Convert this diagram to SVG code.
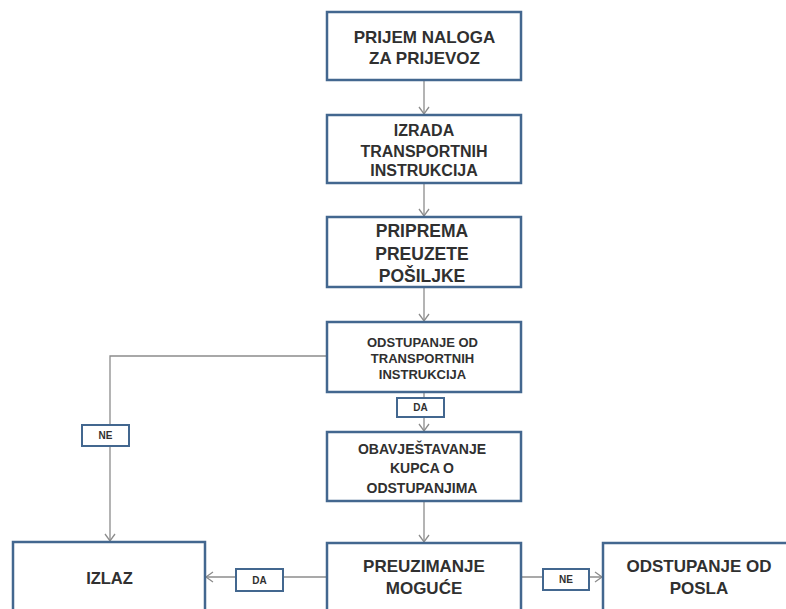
<svg xmlns="http://www.w3.org/2000/svg" width="786" height="609" viewBox="0 0 786 609">
<style>
.box{fill:#fff;stroke:#43678f;stroke-width:2.5}
.lbl{fill:#fff;stroke:#43678f;stroke-width:2}
.t{font-family:"Liberation Sans",Arial,sans-serif;font-weight:bold;fill:#303030;text-anchor:middle;dominant-baseline:central}
.c{fill:none;stroke:#8c8c8c;stroke-width:1.3}
</style>
<defs>
<marker id="ah" markerWidth="12" markerHeight="12" refX="10" refY="6" orient="auto" markerUnits="userSpaceOnUse">
<path d="M3,1 L10,6 L3,11" fill="none" stroke="#8c8c8c" stroke-width="1.3"/>
</marker>
</defs>
<rect width="786" height="609" fill="#fff"/>
<g id="connectors">
<line class="c" x1="424" y1="80" x2="424" y2="114" marker-end="url(#ah)"/>
<line class="c" x1="424" y1="183" x2="424" y2="216" marker-end="url(#ah)"/>
<line class="c" x1="424" y1="287" x2="424" y2="321" marker-end="url(#ah)"/>
<line class="c" x1="424" y1="392" x2="424" y2="431" marker-end="url(#ah)"/>
<line class="c" x1="424" y1="501" x2="424" y2="542" marker-end="url(#ah)"/>
<polyline class="c" points="327,356 110,356 110,541" marker-end="url(#ah)"/>
<line class="c" x1="327" y1="577" x2="206" y2="577" marker-end="url(#ah)"/>
<line class="c" x1="521" y1="577" x2="602" y2="577" marker-end="url(#ah)"/>
</g>
<g id="n1"><rect class="box" x="327" y="12" width="194" height="68"/>
<text class="t" x="424.5" y="37" font-size="17">PRIJEM NALOGA</text>
<text class="t" x="424.5" y="58" font-size="17">ZA PRIJEVOZ</text></g>
<g id="n2"><rect class="box" x="327" y="115" width="194" height="68"/>
<text class="t" x="424" y="130" font-size="16">IZRADA</text>
<text class="t" x="424" y="151.5" font-size="16">TRANSPORTNIH</text>
<text class="t" x="424" y="170.5" font-size="16">INSTRUKCIJA</text></g>
<g id="n3"><rect class="box" x="327" y="217" width="194" height="70"/>
<text class="t" x="422" y="231" font-size="17.5">PRIPREMA</text>
<text class="t" x="422" y="253.5" font-size="17.5">PREUZETE</text>
<text class="t" x="422" y="276" font-size="17.5">POŠILJKE</text></g>
<g id="n4"><rect class="box" x="327" y="322" width="194" height="70"/>
<text class="t" x="422.5" y="342" font-size="13">ODSTUPANJE OD</text>
<text class="t" x="422.5" y="358" font-size="13">TRANSPORTNIH</text>
<text class="t" x="422.5" y="374" font-size="13">INSTRUKCIJA</text></g>
<g id="lbl-da1"><rect class="lbl" x="397" y="398" width="47" height="19"/>
<text class="t" x="420.5" y="407.5" font-size="10">DA</text></g>
<g id="n5"><rect class="box" x="327" y="432" width="194" height="69"/>
<text class="t" x="422" y="448.5" font-size="14">OBAVJEŠTAVANJE</text>
<text class="t" x="422" y="467.5" font-size="14">KUPCA O</text>
<text class="t" x="422" y="487.5" font-size="14">ODSTUPANJIMA</text></g>
<g id="n6"><rect class="box" x="327" y="543" width="194" height="80"/>
<text class="t" x="424" y="566" font-size="17">PREUZIMANJE</text>
<text class="t" x="424" y="588" font-size="17">MOGUĆE</text></g>
<g id="n7"><rect class="box" x="603" y="543" width="194" height="80"/>
<text class="t" x="699" y="566" font-size="17">ODSTUPANJE OD</text>
<text class="t" x="699" y="588" font-size="17">POSLA</text></g>
<g id="n8"><rect class="box" x="13" y="542" width="192" height="80"/>
<text class="t" x="109.5" y="578" font-size="16.5">IZLAZ</text></g>
<g id="lbl-ne1"><rect class="lbl" x="82" y="425" width="47" height="21"/>
<text class="t" x="105.5" y="435.5" font-size="10">NE</text></g>
<g id="lbl-da2"><rect class="lbl" x="236" y="569" width="47" height="22"/>
<text class="t" x="259.5" y="580" font-size="10">DA</text></g>
<g id="lbl-ne2"><rect class="lbl" x="543" y="569" width="46" height="21"/>
<text class="t" x="566" y="579.5" font-size="10">NE</text></g>
</svg>
